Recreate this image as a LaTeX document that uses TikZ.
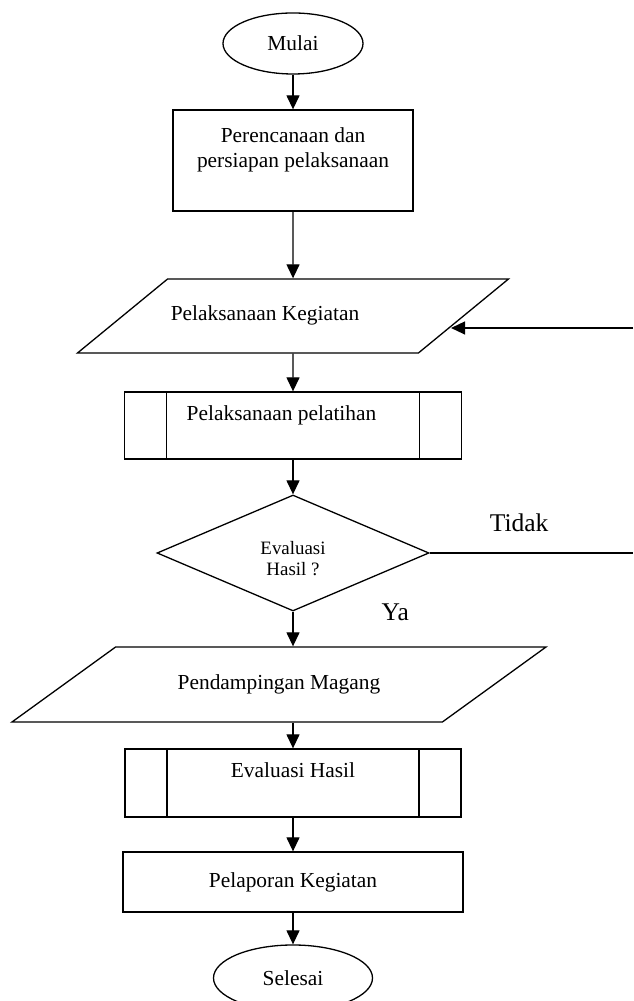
\documentclass[tikz,border=0pt]{standalone}
\usepackage{fontspec}
\setmainfont{Liberation Serif}
\usepackage{tikz}
\usetikzlibrary{arrows.meta,shapes.geometric}

\begin{document}
\begin{tikzpicture}[->,>={Triangle[length=14pt,width=13pt]},line width=1.3pt,x=1pt,y=1pt,
  every node/.style={font=\fontsize{21.4}{25}\selectfont},
  term/.style={ellipse,draw,inner sep=0pt,minimum width=140pt,minimum height=61pt},
  proc/.style={rectangle,draw,align=center,inner sep=0pt},
  io/.style={trapezium,draw,inner xsep=0pt,text height=15pt,text depth=5pt,trapezium stretches body=true},
  subproc/.style={rectangle,draw,align=center,inner sep=0pt,
    path picture={\draw[-] ([xshift=42pt]path picture bounding box.north west) -- ([xshift=42pt]path picture bounding box.south west);
      \draw[-] ([xshift=-42pt]path picture bounding box.north east) -- ([xshift=-42pt]path picture bounding box.south east);}},
  decision/.style={diamond,draw,align=center,inner sep=0pt,font=\fontsize{18.9}{21}\selectfont},
  lbl/.style={inner sep=0pt,font=\fontsize{25.5}{30}\selectfont}]

  \useasboundingbox (0,0) rectangle (633,1001);
  \clip (0,0) rectangle (633,1001);

  \node[term] (start) at (293,957.5) {Mulai};
  \node[proc,minimum width=240pt,minimum height=101pt,node distance=117pt,below of=start] (plan) {Perencanaan dan\\persiapan pelaksanaan\\\mbox{}};
  \node[io,trapezium left angle=39.4,trapezium right angle=140.6,inner ysep=27pt,minimum width=431pt,node distance=155.5pt,below of=plan] (act) {Pelaksanaan Kegiatan\hspace*{56pt}};
  \node[subproc,minimum width=337pt,minimum height=67pt,node distance=109.5pt,below of=act] (train) {Pelaksanaan pelatihan\hspace*{23pt}\\\mbox{}};
  \node[decision,minimum width=272pt,minimum height=116pt,node distance=127.5pt,below of=train] (eval) {\rule{0pt}{25pt}Evaluasi\\Hasil ?};
  \node[io,trapezium left angle=35.9,trapezium right angle=144.1,inner ysep=27.5pt,minimum width=534pt,node distance=131.5pt,below of=eval,xshift=-14pt] (intern) {Pendampingan Magang};
  \node[subproc,minimum width=336pt,minimum height=68pt,node distance=98.5pt,below of=intern,xshift=14pt] (result) {Evaluasi Hasil\\\mbox{}};
  \node[proc,minimum width=340pt,minimum height=60pt,node distance=99pt,below of=result] (report) {Pelaporan Kegiatan};
  \node[term,minimum width=159pt,minimum height=66pt,node distance=96pt,below of=report] (stop) {Selesai};

  \coordinate (back) at (633,673);
  \coordinate (no) at (633,448);

  \path (start) edge (plan)
        (plan) edge (act)
        (act) edge (train)
        (train) edge (eval)
        (eval.east) edge[-] node[lbl,pos=0.44,above=21pt] {Tidak} (no)
        (back) edge (act.-4.4 |- back)
        (eval.south) edge node[lbl,pos=0.03,right=88pt] {Ya} (eval.south |- intern.north)
        (intern.south -| result.north) edge (result)
        (result) edge (report)
        (report) edge (stop);

\end{tikzpicture}
\end{document}
